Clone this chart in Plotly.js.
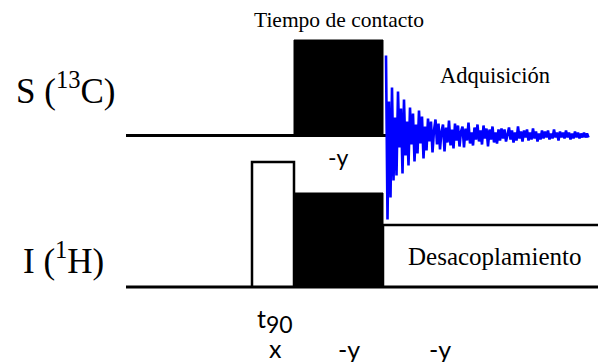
<!DOCTYPE html>
<html>
<head>
<meta charset="utf-8">
<script src="https://cdn.plot.ly/plotly-3.0.1.min.js"></script>
<style>
  html, body { margin: 0; padding: 0; background: #ffffff; }
  #chart { width: 598px; height: 362px; }
</style>
</head>
<body>
<div id="chart"></div>
<script>
// Cross-polarisation pulse sequence: 1H 90° pulse, contact (spin-lock), acquisition with decoupling.

// Sequence timing (arbitrary time units along the horizontal axis)
const seqStart = 126;
const seqEnd = 600;
const blockNames = ["t90", "contacto", "adquisicion"];
const blockStart = [252, 294, 383];
const blockEnd = [294, 383, 600];

// RF amplitudes of each block (arbitrary units)
const hAmp = [125, 94, 62];   // I (1H): 90° pulse, spin-lock, decoupling
const cAmp = [0, 95.5, 0];    // S (13C): contact pulse only

// Phase of each block (drawn under the I channel)
const phaseLabels = ["x", "-y", "-y"];
const contactPhaseS = "-y";

// 13C free induction decay, sampled every fidStep units from the start of acquisition
const fidStart = 386;
const fidStep = 1.5;
const fidAmp = [
  80, -84, 34, -62, 48, -45,
  18, -40, 44, -12, 27, -38, 36, -20, 14, -30,
  28, -9, 22, -26, 11, -18, 25, -8, 19, -23, 9, -15, 17,
  -6, 14, -17, 5, 16, -9, 12, -14, 4, 11, -16, 8, -7, 15, -10, 6, -13, 12, -5, 10,
  -11, 4, 9, -12, 7, -5, 13, -8, 3, -10, 8, -4, 11, -6, 5, -9, 10, -3, 7, -11, 6, -4, 9, -7, 3, -8, 6,
  -5, 7, -3, 6, -6, 2, 8, -4, 5, -7, 3, -5, 9, -3, 4, -6, 5, -2, 6, -5, 3, -4, 7, -3, 4, -6, 2, -4, 5, -3,
  4, -2, 5, -4, 2, -3, 6, -2, 3, -5, 4, -2, 3, -3, 5, -2, 3, -4, 2, -3, 4, -2, 3, -3, 2, -2, 3, -2, 2, -2
];

// Vertical placement of the two channel baselines
const sBase = 226.5;
const iBase = 75;

const serif = "Liberation Serif, Times New Roman, serif";
const sans = "Lato, Noto Sans, sans-serif";

const traces = [];

// S channel baseline up to the start of the FID
traces.push({
  x: [seqStart, fidStart], y: [sBase, sBase],
  mode: "lines", line: { color: "#000", width: 3 }, hoverinfo: "skip"
});

// S contact pulse (filled)
traces.push({
  x: [blockStart[1], blockStart[1], blockEnd[1], blockEnd[1], blockStart[1]],
  y: [sBase, sBase + cAmp[1], sBase + cAmp[1], sBase, sBase],
  mode: "lines", fill: "toself", fillcolor: "#000",
  line: { color: "#000", width: 1 }, hoverinfo: "skip"
});

// I channel baseline
traces.push({
  x: [seqStart, seqEnd], y: [iBase, iBase],
  mode: "lines", line: { color: "#000", width: 3 }, hoverinfo: "skip"
});

// I 90° pulse (open box)
traces.push({
  x: [blockStart[0], blockStart[0], blockEnd[0], blockEnd[0]],
  y: [iBase, iBase + hAmp[0], iBase + hAmp[0], iBase],
  mode: "lines", line: { color: "#000", width: 2.5 }, hoverinfo: "skip"
});

// I spin-lock during contact (filled)
traces.push({
  x: [blockStart[1], blockStart[1], blockEnd[1], blockEnd[1], blockStart[1]],
  y: [iBase, iBase + hAmp[1], iBase + hAmp[1], iBase, iBase],
  mode: "lines", fill: "toself", fillcolor: "#000",
  line: { color: "#000", width: 1 }, hoverinfo: "skip"
});

// I decoupling during acquisition (open box)
traces.push({
  x: [blockStart[2], blockStart[2], blockEnd[2]],
  y: [iBase, iBase + hAmp[2], iBase + hAmp[2]],
  mode: "lines", line: { color: "#000", width: 2.5 }, hoverinfo: "skip"
});

// FID on the S channel
traces.push({
  x: fidAmp.map((_, i) => fidStart + i * fidStep),
  y: fidAmp.map(a => sBase + a),
  mode: "lines", line: { color: "#0000ff", width: 2.6 }, hoverinfo: "skip"
});

const ann = (text, x, y, font, xanchor) => ({
  text, x, y, xref: "x", yref: "y", showarrow: false,
  xanchor: xanchor || "center", yanchor: "middle", font
});

const annotations = [
  ann("Tiempo de contacto", (blockStart[1] + blockEnd[1]) / 2, 342, { family: serif, size: 21.5, color: "#000" }),
  ann("Adquisición", 495, 287, { family: serif, size: 22.5, color: "#000" }),
  ann("S (<sup>13</sup>C)", 14, 274, { family: serif, size: 35, color: "#000" }, "left"),
  ann("I (<sup>1</sup>H)", 21, 104, { family: serif, size: 35, color: "#000" }, "left"),
  ann(contactPhaseS, (blockStart[1] + blockEnd[1]) / 2, 205, { family: sans, size: 23, color: "#000" }),
  ann("Desacoplamiento", 495, 106, { family: serif, size: 25, color: "#000" }),
  ann("t", 261, 44, { family: sans, size: 25, color: "#000" }),
  ann("90", 279, 38, { family: sans, size: 23, color: "#000" }),
  ann(phaseLabels[0], 275, 14, { family: sans, size: 25, color: "#000" }),
  ann(phaseLabels[1], 349, 13, { family: sans, size: 25, color: "#000" }),
  ann(phaseLabels[2], 440, 13, { family: sans, size: 25, color: "#000" })
];

const layout = {
  width: 598, height: 362,
  margin: { l: 0, r: 0, t: 0, b: 0 },
  paper_bgcolor: "#fff", plot_bgcolor: "#fff",
  showlegend: false,
  xaxis: { range: [0, 598], visible: false, fixedrange: true },
  yaxis: { range: [0, 362], visible: false, fixedrange: true },
  annotations
};

Plotly.newPlot("chart", traces, layout, { staticPlot: true, displayModeBar: false });
</script>
</body>
</html>
